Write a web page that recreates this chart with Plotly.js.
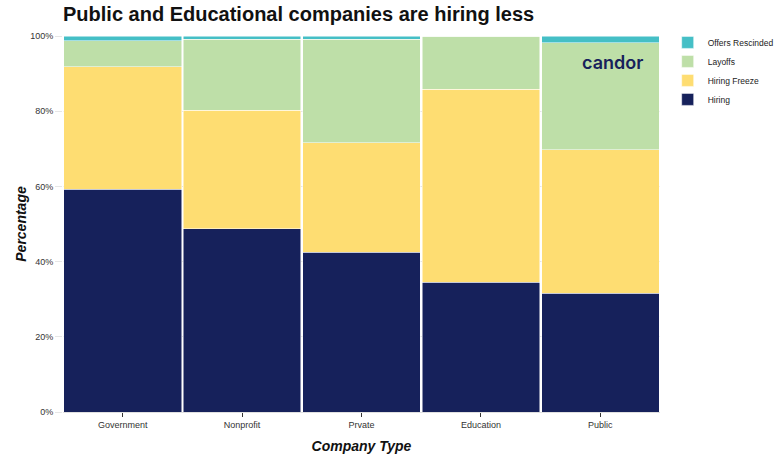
<!DOCTYPE html>
<html>
<head>
<meta charset="utf-8">
<script src="https://cdn.plot.ly/plotly-3.0.1.min.js"></script>
<style>
  body { margin: 0; background: #fff; }
  #chart { width: 780px; height: 465px; }
</style>
</head>
<body>
<div id="chart"></div>
<script>
// Data (share of each company type, in %)
const companyTypes = ["Government", "Nonprofit", "Prvate", "Education", "Public"];
const hiring = [59.2, 48.7, 42.5, 34.5, 31.6];
const hiringFreeze = [32.6, 31.6, 29.1, 51.4, 38.1];
const layoffs = [6.9, 18.9, 27.6, 14.1, 28.5];
const offersRescinded = [1.3, 0.8, 0.8, 0.0, 1.8];

const colors = {
  hiring: "#16215b",
  freeze: "#fedd72",
  layoffs: "#bedfa8",
  offers: "#45bfc6"
};

function barTrace(name, values, color) {
  return {
    type: "bar",
    name: name,
    x: companyTypes,
    y: values,
    marker: { color: color, line: { color: "#ffffff", width: 0.5 } },
    hovertemplate: "%{x}: %{y:.1f}%<extra>" + name + "</extra>"
  };
}

const data = [
  barTrace("Hiring", hiring, colors.hiring),
  barTrace("Hiring Freeze", hiringFreeze, colors.freeze),
  barTrace("Layoffs", layoffs, colors.layoffs),
  barTrace("Offers Rescinded", offersRescinded, colors.offers)
];

const layout = {
  width: 780,
  height: 465,
  barmode: "stack",
  bargap: 0.015,
  margin: { l: 63, r: 120, t: 36, b: 53, autoexpand: false },
  paper_bgcolor: "#ffffff",
  plot_bgcolor: "#ffffff",
  font: { family: "Liberation Sans, Arial, sans-serif", size: 9, color: "#333333" },
  title: {
    text: "<b>Public and Educational companies are hiring less</b>",
    font: { size: 20, color: "#111111" },
    x: 0, xref: "paper", xanchor: "left",
    y: 0.97, yanchor: "middle", yref: "container"
  },
  xaxis: {
    title: { text: "<b><i>Company Type</i></b>", font: { size: 14, color: "#111111" }, standoff: 12 },
    ticks: "outside", ticklen: 4, tickcolor: "#333333",
    showline: true, linecolor: "#e0e0e0", linewidth: 1,
    showgrid: false
  },
  yaxis: {
    title: { text: "<b><i>Percentage</i></b>", font: { size: 14, color: "#111111" }, standoff: 0 },
    range: [0, 100],
    tickvals: [0, 20, 40, 60, 80, 100],
    ticktext: ["0%", "20%", "40%", "60%", "80%", "100%"],
    ticks: "outside", ticklen: 7, tickcolor: "#e6e6e6",
    showgrid: true, gridcolor: "#e6e6e6", gridwidth: 1,
    zeroline: false, showline: false
  },
  legend: {
    xref: "container", yref: "container",
    x: 0.856, xanchor: "left", y: 0.94, yanchor: "top",
    font: { size: 8.5, color: "#222222" },
    tracegroupgap: 0
  },
  annotations: [{
    text: "candor",
    xref: "paper", yref: "paper",
    x: 0.975, y: 0.93, xanchor: "right", yanchor: "middle",
    showarrow: false,
    font: { family: "Inter, Noto Sans, sans-serif", size: 18, weight: 600, color: "#16215b" }
  }]
};

Plotly.newPlot("chart", data, layout, { displayModeBar: false });
</script>
</body>
</html>
